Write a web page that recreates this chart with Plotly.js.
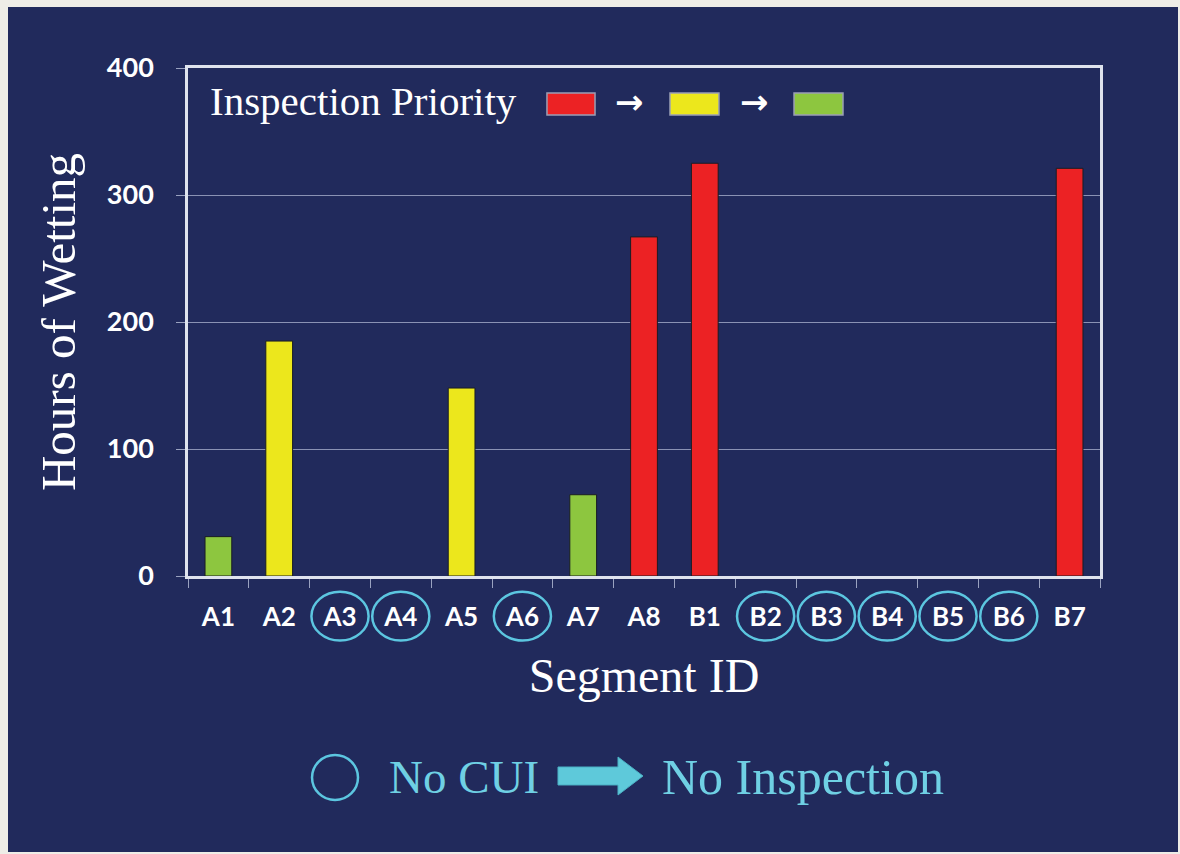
<!DOCTYPE html>
<html>
<head>
<meta charset="utf-8">
<script src="https://cdn.plot.ly/plotly-3.0.1.min.js"></script>
<style>
  html, body { margin: 0; padding: 0; background: #eeede7; width: 1180px; height: 854px; overflow: hidden; }
  #chart { position: absolute; left: 8px; top: 7px; width: 1170px; height: 845px; }
</style>
</head>
<body>
<div id="chart"></div>
<script>
// ---- data ----
const segments = ["A1","A2","A3","A4","A5","A6","A7","A8","B1","B2","B3","B4","B5","B6","B7"];
const hoursOfWetting = [31, 185, null, null, 148, null, 64, 267, 325, null, null, null, null, null, 321];
const priority = ["low","medium",null,null,"medium",null,"low","high","high",null,null,null,null,null,"high"];
const noCuiSegments = ["A3","A4","A6","B2","B3","B4","B5","B6"];
const yTicks = [0, 100, 200, 300, 400];

const priorityColors = { high: "#ec2224", medium: "#ece71c", low: "#8dc63f" };
const navy = "#212a5c";
const cyan = "#5cc6e0";

const barColors = priority.map(p => p ? priorityColors[p] : "rgba(0,0,0,0)");

const trace = {
  type: "bar",
  x: segments,
  y: hoursOfWetting,
  marker: { color: barColors, line: { color: "#1a1d24", width: 1 } },
  hoverinfo: "x+y"
};

// circles around the "No CUI" tick labels
const shapes = noCuiSegments.map(s => {
  const i = segments.indexOf(s);
  return {
    type: "circle", xref: "x", yref: "paper",
    x0: i - 0.47, x1: i + 0.47, y0: -0.031, y1: -0.127,
    line: { color: cyan, width: 2.5 }, fillcolor: "rgba(0,0,0,0)", layer: "above"
  };
});

// Inspection priority key boxes
const keyOrder = ["high", "medium", "low"];
const keyX = [[0.3936, 0.4463], [0.5285, 0.5822], [0.6645, 0.7182]];
keyOrder.forEach((k, j) => {
  shapes.push({
    type: "rect", xref: "paper", yref: "paper",
    x0: keyX[j][0], x1: keyX[j][1], y0: 0.9075, y1: 0.9508,
    fillcolor: priorityColors[k], line: { color: "#9a9fb5", width: 1.5 }, layer: "above"
  });
});

// bottom note: circle + block arrow
shapes.push({
  type: "circle", xref: "paper", yref: "paper",
  x0: 0.136, x1: 0.1864, y0: -0.3524, y1: -0.4409,
  line: { color: cyan, width: 2.5 }, fillcolor: "rgba(0,0,0,0)"
});
shapes.push({
  type: "path", xref: "paper", yref: "paper",
  path: "M 0.4057,-0.376 L 0.4715,-0.376 L 0.4715,-0.3563 L 0.4989,-0.3937 L 0.4715,-0.4311 L 0.4715,-0.4114 L 0.4057,-0.4114 Z",
  fillcolor: "#5ec9da", line: { color: "#4ab0c4", width: 1 }
});

const serif = "Liberation Serif, Times New Roman, serif";
const annotations = [
  { xref: "paper", yref: "paper", x: 0.022, y: 0.935, xanchor: "left", yanchor: "middle",
    text: "Inspection Priority", showarrow: false,
    font: { family: serif, size: 41, color: "#ffffff" } },
  { xref: "paper", yref: "paper", x: 0.4846, y: 0.933, xanchor: "center", yanchor: "middle",
    text: "→", showarrow: false, font: { family: "DejaVu Sans", size: 34, color: "#ffffff", weight: "bold" } },
  { xref: "paper", yref: "paper", x: 0.6217, y: 0.933, xanchor: "center", yanchor: "middle",
    text: "→", showarrow: false, font: { family: "DejaVu Sans", size: 34, color: "#ffffff", weight: "bold" } },
  { xref: "paper", yref: "paper", x: 0.2182, y: -0.396, xanchor: "left", yanchor: "middle",
    text: "No CUI", showarrow: false, font: { family: serif, size: 47, color: "#6fd0e4" } },
  { xref: "paper", yref: "paper", x: 0.5175, y: -0.396, xanchor: "left", yanchor: "middle",
    text: "No Inspection", showarrow: false, font: { family: serif, size: 50, color: "#6fd0e4" } }
];

const layout = {
  width: 1170, height: 845,
  margin: { l: 180, r: 78, t: 61, b: 276 },
  paper_bgcolor: navy,
  plot_bgcolor: navy,
  showlegend: false,
  bargap: 0.56,
  xaxis: {
    type: "category",
    showline: true, mirror: true, linecolor: "#dfe3ee", linewidth: 2.5,
    ticks: "outside", tickson: "boundaries", ticklen: 9, tickcolor: "#9aa2c0", tickwidth: 1,
    tickfont: { family: "Lato, Calibri, sans-serif", size: 26, color: "#ffffff", weight: "bold" },
    ticklabelstandoff: 16,
    showgrid: false,
    title: { text: "Segment ID", standoff: 28, font: { family: serif, size: 48, color: "#ffffff" } }
  },
  yaxis: {
    range: [0, 400], tickvals: yTicks, ticktext: yTicks.map(String),
    showline: true, mirror: true, linecolor: "#dfe3ee", linewidth: 2.5,
    ticks: "outside", ticklen: 9, tickcolor: "#9aa2c0", tickwidth: 1,
    tickfont: { family: "Lato, Calibri, sans-serif", size: 27, color: "#ffffff", weight: "bold" },
    ticklabelstandoff: 17,
    showgrid: true, gridcolor: "#8a92b4", gridwidth: 1.2, zeroline: false,
    title: { text: "Hours of Wetting", standoff: 16, font: { family: serif, size: 49, color: "#ffffff" } }
  },
  shapes: shapes,
  annotations: annotations
};

Plotly.newPlot("chart", [trace], layout, { displayModeBar: false, responsive: false });
</script>
</body>
</html>
